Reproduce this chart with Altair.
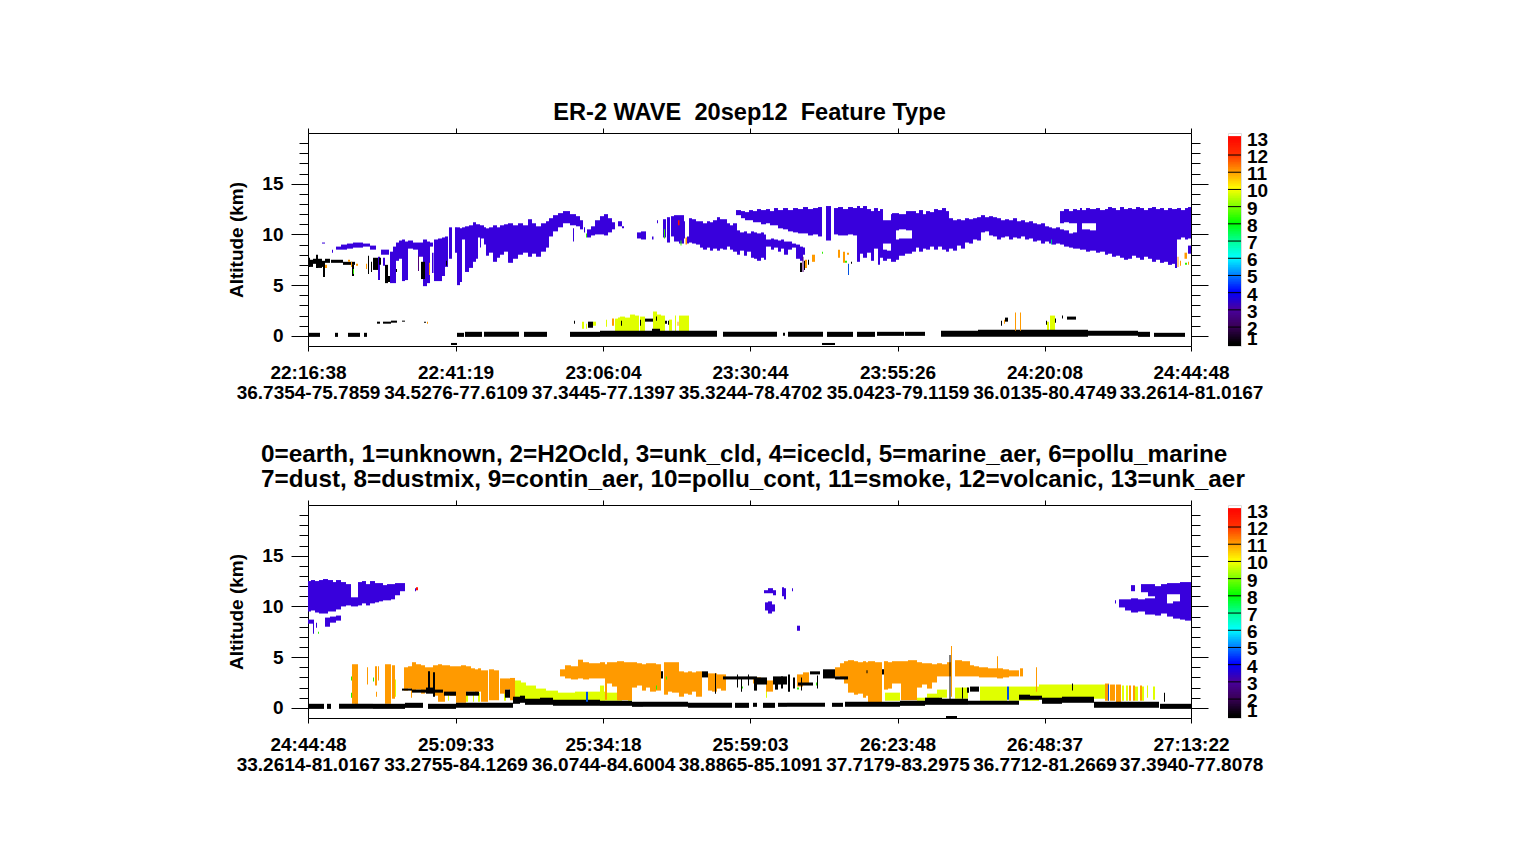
import altair as alt
import numpy as np
import pandas as pd

FONT = "Liberation Sans"
BLACK, PURPLE, ICE, TEAL, GREEN, YELLOW, ORANGE, RED, BLUE = (
    "#000000", "#50007a", "#3800dc", "#00c090", "#30f000", "#e0ff00", "#ff9a00", "#ff1000", "#0050e0")

tick_pos = [0, 147.5, 295, 442, 589.5, 736.5, 883]
times_a = ["22:16:38", "22:41:19", "23:06:04", "23:30:44", "23:55:26", "24:20:08", "24:44:48"]
coords_a = ["36.7354-75.7859", "34.5276-77.6109", "37.3445-77.1397", "35.3244-78.4702", "35.0423-79.1159", "36.0135-80.4749", "33.2614-81.0167"]
times_b = ["24:44:48", "25:09:33", "25:34:18", "25:59:03", "26:23:48", "26:48:37", "27:13:22"]
coords_b = ["33.2614-81.0167", "33.2755-84.1269", "36.0744-84.6004", "38.8865-85.1091", "37.7179-83.2975", "36.7712-81.2669", "37.3940-77.8078"]

# every row: first profile, last profile, feature base (km), feature top (km)
a_ice = [
    (14,17,9.1,9.2),(24,25,8.2,8.5),(28,33,8.5,8.8),(33,39,8.5,9.0),(39,45,8.6,9.1),(45,55,8.7,9.2),(55,62,8.8,9.1),(62,68,8.5,8.9),
    (73,81,8.0,8.5),(70,72,5.5,7.8),(75,77,6.9,7.7),(82,85,5.2,8.3),(85,88,5.2,8.8),(88,91,7.4,9.2),(91,94,7.6,9.4),(94,97,5.4,9.5),(97,100,5.5,9.3),
    (100,105,8.6,9.4),(105,110,8.5,9.2),(110,115,7.8,9.2),(115,119,4.9,9.5),(119,122,5.2,9.3),(122,125,8.8,9.2),(124,125.5,6.2,8.2),(126,130,5.4,9.5),
    (130,134,5.4,9.6),(134,137,5.9,9.7),(137,140,6.8,9.8),(141,144,7.6,10.7),(147,149,8.2,10.7),(149,152,5.0,10.7),(152,154,5.3,10.6),(154,157,9.5,10.7),(157,161,6.3,10.8),
    (161,165,6.7,10.9),(165,168,7.3,11.2),(168,170,7.6,11.0),(170,172,9.7,11.0),(172,173,8.7,10.9),(173,176,9.6,10.9),(176,178,9.0,10.7),(178,181,7.9,10.6),(181,185,8.2,10.7),(185,189,7.3,10.9),
    (189,192,7.7,10.7),(192,196,8.0,10.9),(196,200,8.3,11.0),(200,205,7.2,11.1),(205,210,7.6,10.9),(210,215,8.0,11.1),(215,220,8.2,10.9),
    (220,224,7.8,11.5),(224,228,8.1,11.1),(228,233,7.8,10.8),(233,238,8.3,11.1),(238,241,8.7,11.3),(241,245,9.8,11.6),(245,250,10.3,11.9),(250,255,10.7,12.1),
    (255,262,11.1,12.3),(262,268,10.9,12.0),(268,272,10.8,11.8),(272,275,10.5,11.4),(265,266,9.3,10.6),(276,277,10.2,10.7),(279,283,9.7,10.5),
    (283,287,9.9,10.8),(287,292,10.0,11.4),(292,296,10.0,11.8),(296,300,9.9,12.0),(300,304,10.2,11.6),(304,307,10.5,11.2),(310,314,10.8,11.3),
    (314,316,10.6,10.8),(329,333,9.6,10.2),(333,338,9.5,10.3),(344,345.5,9.5,9.8),(349,350,11.1,11.4),(355,358,9.7,11.5),(359,362,9.2,11.7),
    (363,366,9.8,11.8),(366,371,9.3,11.9),(371,376,9.1,11.9),(376,377,9.6,11.3),(379,381,9.1,9.8),(381,384,9.2,11.6),(384,388,9.1,11.5),(388,392,9.0,11.3),
    (392,395,8.7,11.3),(395,399,8.5,11.1),(399,402,8.7,11.3),(402,405,8.4,11.2),(405,409,8.6,11.4),(409,412,8.4,11.7),(412,415,8.6,11.5),(415,419,8.5,11.5),(419,422,8.8,11.1),(422,425,8.5,10.9),(425,429,8.3,11.1),
    (429,432,8.0,10.4),(432,436,8.4,10.2),(436,439,7.9,10.3),(439,443,8.3,10.1),(443,446,7.7,10.3),(446,449,7.6,10.2),(449,453,7.4,10.1),(453,456,7.7,10.2),(456,458,7.5,10.0),(458,463,8.8,9.5),
    (463,466,8.5,9.6),(466,470,8.7,9.5),(470,473,8.3,9.4),(473,476,8.6,9.5),(476,480,8.0,9.3),(480,484,8.5,9.3),(484,488,8.7,9.1),(488,492,7.6,9.0),(492,495,7.4,8.8),(495,497,8.0,8.7),
    (428,433,11.9,12.4),(433,437,11.6,12.3),(437,441,11.4,12.2),(441,445,11.4,12.4),(445,449,11.2,12.3),(449,453,11.2,12.5),(453,458,11.0,12.4),(458,462,11.1,12.5),(462,466,10.9,12.3),(466,470,10.9,12.6),(470,475,10.6,12.4),(475,480,10.5,12.6),(480,485,10.3,12.4),
    (485,490,10.2,12.6),(490,495,10.1,12.5),(495,500,10.1,12.7),(500,505,9.9,12.5),(505,510,10.0,12.6),(510,514,9.8,12.7),(518,523,9.4,12.8),(526,530,10.0,12.6),(530,535,9.9,12.7),(535,540,9.9,12.5),(540,545,10.0,12.7),(545,549,9.9,12.6),(549,552,7.3,12.8),
    (552,555,8.1,12.6),(555,559,7.7,12.8),(559,563,8.2,12.5),(563,566,7.4,12.3),(566,570,8.6,12.6),(570,572,7.0,12.3),(572,575,7.7,12.5),(575,583,9.1,11.4),(575,579,7.4,8.5),(579,583,7.6,8.4),
    (583,588,7.3,12.0),(584,591,10.4,12.1),(588,591,7.5,9.5),(591,598,10.5,12.0),(598,604,10.4,12.3),(591,597,7.9,9.6),(597,604,8.1,9.6),
    (604,608,8.3,12.3),(608,611,8.7,12.1),(611,615,8.3,12.4),(615,618,8.6,12.0),(618,622,8.5,12.3),(622,626,8.8,12.2),(626,630,8.5,12.5),(630,634,8.8,12.4),(634,638,8.5,12.6),(638,641,8.3,12.3),
    (641,645,8.6,11.6),(645,649,8.4,11.4),(649,653,8.9,11.5),(653,657,8.6,11.4),(657,661,9.2,11.6),(661,665,9.1,11.5),(665,669,9.5,11.6),(669,673,9.4,11.7),(673,677,10.2,11.9),(677,681,10.3,11.7),
    (681,685,9.9,11.8),(685,689,9.8,11.7),(689,693,9.5,11.6),(693,697,9.7,11.4),(697,701,9.8,11.5),(701,705,9.5,11.4),(705,709,9.7,11.6),(709,713,9.6,11.3),(713,717,9.8,11.4),(717,721,9.5,11.2),
    (721,725,9.6,11.3),(725,729,9.3,11.1),(729,733,9.4,11.0),(733,737,9.1,11.1),(737,741,9.3,10.8),(741,744,9.1,10.7),(744,748,9.0,10.6),(748,752,9.1,10.7),(752,756,9.0,10.5),(756,761,8.8,10.4),
    (752,756,11.1,12.3),(756,761,11.2,12.5),(761,765,8.7,10.1),(765,769,8.6,10.2),(761,765,11.1,12.3),(765,769,11.1,12.5),(769,772,8.6,12.4),(772,774,8.5,12.6),(774,778,8.5,10.5),(778,782,8.3,10.5),(782,788,8.4,10.4),
    (774,778,11.1,12.4),(778,782,11.1,12.6),(782,788,11.1,12.5),(788,792,8.2,12.6),(792,797,8.3,12.4),(797,800,8.0,12.5),(800,804,8.1,12.7),(804,808,7.8,12.6),(808,812,7.9,12.4),(812,816,7.7,12.7),(816,820,7.5,12.5),(820,824,7.6,12.6),
    (824,828,7.9,12.5),(828,832,7.7,12.7),(832,836,7.5,12.6),(836,840,7.8,12.4),(840,844,7.6,12.6),(844,848,7.3,12.7),(848,852,7.5,12.5),(852,856,7.2,12.6),(856,860,7.3,12.4),(860,864,7.0,12.6),(864,867,7.1,12.5),(867,869,6.7,12.5),
    (869,873,9.5,12.6),(873,877,9.7,12.4),(877,880,9.5,12.6),(880,883,9.6,12.7),(880,883,8.1,8.9),
]
a_earth = [
    (0,12,-0.1,0.3),(27,30,-0.1,0.3),(40,52,-0.1,0.3),(56,59,-0.1,0.3),(149,156,-0.1,0.3),(157,174,-0.1,0.4),(176,211,-0.1,0.4),(216,239,-0.1,0.4),
    (262,292,-0.1,0.4),(292,340,-0.1,0.5),(340,409,-0.1,0.5),(415,469,-0.1,0.4),(475,477,0.0,0.3),(480,515,-0.1,0.4),(519,545,-0.1,0.4),(549,567,-0.1,0.4),
    (569,596,0.0,0.4),(597,617,0.0,0.4),(633,670,-0.1,0.5),(670,720,-0.1,0.6),(720,780,-0.1,0.6),(780,830,0.0,0.5),(830,842,-0.1,0.4),(846,877,-0.1,0.3),
    (344,352,0.4,0.7),(143,149,-0.9,-0.7),(514,527,-0.9,-0.7),
    (0,2,6.8,7.7),(2,5,6.8,7.5),(5,8,7.1,7.6),(8,10,6.7,8.0),(10,14,6.7,7.6),(14,17,6.8,7.4),(15,17,5.8,7.0),(17,22,7.2,7.6),(23,35,7.2,7.5),(35,47,7.0,7.3),
    (44,46,5.9,7.0),(60,61,6.1,7.9),(63,64,6.3,7.3),(65,70,6.5,7.7),(71,73,7.0,7.7),(77,80,5.2,7.0),(80,82,5.3,5.9),(88,89,6.3,6.6),(113,117,5.6,7.3),
    (138,139,6.9,7.4),(69,72,1.2,1.4),(75,83,1.2,1.4),(83,89,1.3,1.5),(94,97,1.4,1.5),(116,118,1.3,1.4),(266,267,1.2,1.5),
    (280,285,0.8,1.4),(313,314,1.0,1.5),(332,333,1.0,1.6),(337,345,1.4,1.7),(348,349,1.5,1.9),(357,359,1.2,1.5),(360,361,1.1,1.5),
    (693,694,1.0,1.5),(697,700,1.4,1.8),(738,739,1.1,1.5),(747,748,1.3,1.7),(754,755,1.7,2.0),(759,768,1.6,1.9),
    (492,494,6.3,7.2),(496,497,6.5,7.4),(500,501,7.0,7.5),(543,544,7.1,7.3),
]
a_water = [(110,111,6.4,7.9),(494.5,495.5,6.3,7.8)]
a_polluted = [
    (274,276,0.7,1.4),(278,279,0.7,1.2),(285,288,1.0,1.4),(298,299,0.9,1.6),(307,310,0.4,1.7),(310,312,0.4,1.8),(312,317,0.4,1.9),(317,322,0.4,1.8),(322,327,0.4,2.1),(327,331,0.4,2.0),
    (332,337,0.4,1.9),(345,349,0.4,2.4),(349,353,0.4,2.1),(353,357,0.4,2.0),(361,364,0.5,1.6),(367,368,0.4,2.0),(371,381,0.4,2.0),
    (739,741,0.4,1.4),(742,747,0.4,2.0),
]
a_smoke = [
    (17,19,6.7,7.0),(40,42,7.3,7.5),(43,44,6.8,7.3),(48,50,6.9,7.1),(58,59,6.6,7.1),(119,120,1.2,1.4),(121,122,6.0,7.2),(304,306,1.0,1.7),
    (369.5,370.5,1.0,1.4),(377.5,379,9.0,9.7),(497,499,6.7,7.5),(504,507,7.3,8.0),(530,532,7.7,8.5),(535,537,7.2,8.3),(539,541,8.0,8.2),
    (696,697,1.2,1.6),(707,708,0.5,2.3),(712,713,0.5,2.3),(869.5,870.5,6.8,7.8),(872,873,6.9,7.4),(876.5,879,7.6,8.2),(880,881,7.0,7.3),
]
a_dust = [(45,46,6.1,6.6),(278,279,9.7,10.1),(356,357,9.6,10.5),(372.5,373.5,8.9,9.4),(514,515,8.1,8.3),(537,539,7.2,7.4),(877,879,7.0,7.2)]
a_teal = [(743,744,9.0,9.5)]
a_red = [(370,371.5,10.9,11.4)]
a_blue = [(540,541,6.0,7.1)]

b_ice = [
    (0,3,9.5,12.5),(3,7,9.6,12.6),(7,11,9.4,12.5),(11,15,9.3,12.6),(15,20,9.3,12.7),(20,25,9.5,12.6),(25,28,9.5,12.4),(28,33,9.7,12.6),(33,38,10.0,12.4),(38,43,10.1,12.2),
    (43,50,10.0,10.9),(50,54,10.1,12.4),(54,58,10.3,12.5),(58,62,10.1,12.2),(62,67,10.3,12.5),(67,71,10.4,12.3),(71,75,10.5,12.3),(75,79,10.6,12.1),(79,83,10.6,12.2),
    (83,87,10.7,12.2),(87,92,11.1,12.3),(92,97,11.5,12.3),(0,6,8.3,8.7),(5,6,7.3,8.5),(8,9,7.9,8.4),(17,22,8.0,8.9),(22,28,8.4,9.0),(28,33,8.6,9.1),(107,108,11.5,11.8),
    (457,460,9.6,10.4),(460,464,9.3,10.5),(464,467,9.5,10.2),(456,460,11.3,11.6),(460,465,11.3,11.8),(465,468,11.1,11.6),(474,476,11.0,11.9),(476,478,10.7,11.8),(484,485,11.5,11.8),(489,492,7.6,8.1),
    (807,808,10.3,10.6),(811,817,9.9,10.7),(817,823,9.6,10.7),(823,827,11.5,12.1),(823,830,9.4,10.8),(830,837,9.5,10.7),(833,840,11.4,12.2),(840,847,11.0,12.2),(837,847,9.2,10.8),
    (847,853,9.1,12.0),(853,859,9.3,12.2),(859,865,9.0,10.3),(865,872,8.8,10.5),(859,872,11.2,12.3),(872,877,8.7,12.4),(877,883,8.6,12.4),
]
b_earth = [
    (0,16,-0.1,0.4),(19,23,-0.1,0.4),(31,65,-0.1,0.4),(65,97,-0.1,0.4),(97,115,0.0,0.5),(120,148,-0.1,0.4),(148,205,0.0,0.5),(205,212,0.4,1.1),(212,217,0.5,1.2),
    (217,232,0.3,0.9),(232,245,0.3,1.0),(245,292,0.2,0.8),(292,324,0.2,0.7),(324,335,0.1,0.6),(335,380,0.1,0.6),(380,424,0.0,0.5),(427,441,0.0,0.5),(445,449,0.1,0.5),
    (455,467,0.0,0.5),(470,479,0.1,0.5),(479,517,0.1,0.5),(524,535,0.1,0.5),(537,592,0.1,0.6),(592,617,0.2,0.7),(617,634,0.3,1.0),(634,660,0.3,0.9),(660,711,0.3,0.7),
    (711,722,0.8,1.3),(722,734,0.8,1.2),(734,754,0.4,1.0),(754,786,0.5,1.1),(786,851,0.0,0.6),(852,883,-0.1,0.4),(638,649,-1.0,-0.8),
    (94,104,1.7,1.9),(104,118,1.5,1.8),(118,125,1.4,2.0),(120,122,1.5,3.6),(125,127,1.1,3.5),(127,135,1.5,1.8),(136,148,1.2,1.6),(158,171,1.2,1.6),(197,202,1.0,1.8),
    (353,355,2.9,3.6),(394,400,3.0,3.6),(407,408,1.4,3.4),(415,435,2.8,3.1),(435,449,2.8,3.1),(429,430,2.0,3.3),(433,434,1.6,3.0),(440,441,2.2,3.3),(446,449,1.7,3.0),
    (449,459,2.3,3.0),(465,479,2.3,3.1),(467,470,1.8,3.0),(473,475,1.9,3.1),(480,482,1.6,3.3),(485,487,1.9,3.0),
    (490,505,2.2,2.5),(493,494,1.7,3.0),(502,512,3.3,3.6),(509,510,1.9,3.2),(515,527,2.9,3.8),(527,540,2.8,3.1),(558.5,559.5,3.4,3.7),(574,576,3.3,3.8),(641.5,642.5,0.75,5.2),
    (654,655,0.9,2.0),(659,661,1.5,2.0),(662,671,1.6,2.1),(764,765,1.7,2.4),(856,857,0.6,1.5),
]
b_polluted = [
    (87,88,1.1,2.8),(134,135,0.7,1.8),(140,141,0.7,1.8),(158,160,0.6,1.6),(165,166,0.6,1.6),(170,172,0.6,1.5),(196,198,0.7,1.5),
    (207,213,0.6,2.7),(213,218,0.6,2.5),(218,228,0.6,2.2),(228,238,0.6,1.9),(238,250,0.6,1.7),(250,267,0.6,1.5),(267,278,0.6,1.6),(280,297,0.7,1.6),
    (292,296,0.7,2.2),(296,314,0.7,1.5),(320,324,0.7,1.4),(458,459,1.0,1.9),(577,592,0.7,1.5),(609,619,0.7,1.0),(619,631,0.8,1.4),(629,639,1.0,1.8),
    (647,660,0.9,2.0),(672,699,0.7,2.1),(701,731,0.7,2.1),(731,765,0.9,2.3),(765,797,0.9,2.3),(814,816,0.7,2.2),(818,820,0.7,2.2),(827,830,0.7,2.1),(834,836,0.7,2.1),
    (839,840,1.0,2.2),(845,847,0.8,2.1),
]
b_smoke = [
    (44,47,0.4,4.3),(47,50,0.3,4.3),(59,60,2.3,4.0),(67,69,2.2,4.1),(68,69,1.1,1.6),(70,71,2.7,4.1),(77,83,0.4,4.3),(84,87,0.9,4.2),
    (96,100,1.7,4.0),(100,103,1.9,4.1),(103,104,1.0,4.1),(104,108,1.6,4.5),(108,113,1.8,4.3),(113,117,1.4,4.2),(117,120,1.6,4.0),(120,125,1.6,4.0),(125,130,1.2,4.2),(130,134,0.6,4.3),(134,137,0.6,4.2),(137,142,1.4,4.2),(142,148,1.2,4.1),(148,153,0.5,4.1),(153,158,0.5,4.2),(158,163,1.6,4.1),
    (163,167,1.6,3.9),(167,170,1.5,3.8),(170,173,1.6,3.9),(173,180,0.6,3.7),(181,186,0.75,3.8),(186,191,0.75,3.7),(192,197,1.4,2.9),(197,202,1.8,2.9),(202,207,0.75,2.95),
    (252,257,3.1,3.8),(257,263,2.9,4.2),(263,270,2.8,4.1),(270,275,2.9,4.75),(275,281,2.8,4.5),(281,286,2.9,4.4),(286,292,2.9,4.4),(292,297,2.9,4.5),(297,299,0.8,4.3),
    (299,304,2.4,4.5),(304,309,2.1,4.5),(309,316,0.75,4.6),(316,324,0.75,4.5),(324,329,2.0,4.5),(329,334,2.2,4.4),(334,338,1.7,4.3),(338,342,2.0,4.4),(342,348,1.6,4.4),(348,353,1.7,4.3),(356,360,1.3,4.5),(360,364,1.6,4.5),(364,371,1.5,4.5),(371,376,1.1,3.6),(376,380,1.4,3.5),(380,384,1.3,3.6),
    (384,388,1.6,3.5),(388,394,1.1,3.6),(400,404,1.7,3.4),(404,409,1.6,3.4),(409,413,1.9,3.3),(413,418,1.7,3.3),(445,453,2.4,3.0),(458,465,1.6,2.7),(489,495,2.1,3.3),(495,501,2.3,3.5),
    (527,532,3.1,4.0),(532,536,2.9,4.4),(536,540,2.4,4.6),(540,546,1.5,4.7),(546,550,1.3,4.6),(550,555,1.4,4.5),(555,558,1.0,4.6),(558,560,1.2,4.5),(560,567,0.5,4.6),(567,574,0.5,4.5),(576,580,1.8,4.6),(580,584,1.9,4.5),
    (584,593,2.4,4.6),(593,600,0.75,4.6),(600,609,0.75,4.7),(609,614,2.0,4.5),(614,619,2.3,4.4),(619,624,1.9,4.4),(624,629,2.5,4.3),(629,634,3.1,4.4),(634,639,3.1,4.3),(639,644,3.1,4.5),(647,654,3.1,4.7),(654,662,3.1,4.6),(662,666,3.1,4.2),(666,671,3.1,4.1),(671,680,3.0,4.0),(680,689,3.0,3.9),
    (689,695,2.9,3.9),(695,701,3.0,3.8),(701,711,3.1,3.7),(712,715,3.1,3.9),(643,644,1.1,6.1),(689,690,3.1,5.1),(728,729,1.6,4.0),
    (797,801,0.7,2.4),(802,807,0.7,2.3),(808,813,0.4,2.3),(821,823,0.7,2.2),(825,827,0.7,2.2),(832,834,0.7,2.2),
]
b_dust = [(43,44,2.7,3.1),(43,44,1.0,1.5),(10,11,7.3,7.5),(65,66,2.6,3.0),(434,435,1.9,2.1),(348,349,1.8,2.2),(358,359,2.8,3.1),(489,491,1.8,2.0),(508,509,2.2,2.5)]
b_red = [(108,110,11.6,11.9)]
b_blue = [(278,280,0.6,1.6),(699,701,0.8,2.1),(800,801,0.7,2.3)]

bar_stop_levels = [0.9, 1.0, 2.0, 3.0, 4.0, 5.0, 6.0, 7.0, 8.0, 9.0, 10.0, 11.0, 12.0, 13.1]
bar_stop_colors = ["#000000", "#000000", "#3a0058", "#4a00a0", "#0000ff", "#0080ff", "#00ffff", "#00ff90", "#00ff00", "#80ff00", "#ffff00", "#ff9a00", "#ff3000", "#ff0000"]
bar_labels = ["1", "2", "3", "4", "5", "6", "7", "8", "9", "10", "11", "12", "13"]
bar_label_levels = [1.45, 2, 3, 4, 5, 6, 7, 8, 9, 10, 11, 12, 13]


def rows(groups):
    out = []
    for name, color, items in groups:
        for (x0, x1, b, t) in items:
            out.append(dict(x0=x0, x1=x1, base=b, top=t, kind=name, fill=color))
    return pd.DataFrame(out)


def panel(df, times, coords, title):
    mapping = "{" + ",".join(f"'{p}':['{t}','{c}']" for p, t, c in zip(tick_pos, times, coords)) + "}"
    ytick = list(range(0, 20))
    xscale = alt.Scale(domain=[0, 883], nice=False, zero=False)
    yscale = alt.Scale(domain=[-1, 20], nice=False, zero=False)
    size_cond = {"condition": {"test": "datum.value % 5 === 0", "value": 17}, "value": 9}
    base_axis = dict(grid=False, domainColor="black", tickColor="black", domainWidth=1, tickWidth=1)
    x_bottom = alt.Axis(values=tick_pos, title=None, tickSize=5, labelExpr=f"{mapping}[datum.value]",
                        labelFont=FONT, labelFontSize=19, labelFontWeight="bold", labelColor="black",
                        labelPadding=12, labelLineHeight=20, labelOverlap=False, labelFlush=False, **base_axis)
    y_left = alt.Axis(values=ytick, title="Altitude (km)", tickSize=size_cond,
                      labelExpr="datum.value % 5 === 0 ? datum.label : ''",
                      labelFont=FONT, labelFontSize=19, labelFontWeight="bold", labelColor="black", labelPadding=8,
                      titleFont=FONT, titleFontSize=19, titleFontWeight="bold", titleColor="black", titlePadding=15,
                      labelOverlap=False, **base_axis)
    fg = alt.Chart(df).mark_rect().encode(
        x=alt.X("x0:Q", scale=xscale, axis=x_bottom),
        x2="x1:Q",
        y=alt.Y("base:Q", scale=yscale, axis=y_left),
        y2="top:Q",
        color=alt.Color("fill:N", scale=None, legend=None),
    )
    x_top = alt.Axis(values=tick_pos, title=None, tickSize=5, labels=False, orient="top", **base_axis)
    y_right = alt.Axis(values=ytick, title=None, tickSize=size_cond, labels=False, orient="right", **base_axis)
    frame = alt.Chart(df.head(1)).mark_rect(opacity=0).encode(
        x=alt.X("x0:Q", scale=xscale, axis=x_top),
        x2="x1:Q",
        y=alt.Y("base:Q", scale=yscale, axis=y_right),
        y2="top:Q",
    )
    return alt.layer(fg, frame).resolve_axis(x="independent", y="independent").properties(width=883, height=213, title=title)


def colorbar():
    cells = pd.DataFrame({"lo": np.arange(0.9, 13.0, 0.1)})
    cells["hi"] = cells["lo"] + 0.2
    labels = pd.DataFrame({"lev": bar_label_levels, "txt": bar_labels})
    lines = pd.DataFrame({"lev": list(range(2, 13))})
    ys = alt.Scale(domain=[0.9, 13.28], nice=False, zero=False)
    ramp = alt.Chart(cells).mark_rect().encode(
        y=alt.Y("lo:Q", scale=ys, axis=None),
        y2="hi:Q",
        color=alt.Color("lo:Q", scale=alt.Scale(domain=bar_stop_levels, range=bar_stop_colors, interpolate="rgb"), legend=None),
    )
    rules = alt.Chart(lines).mark_rule(color="black", strokeWidth=1).encode(y=alt.Y("lev:Q", scale=ys, axis=None))
    text = alt.Chart(labels).mark_text(align="left", baseline="middle", font=FONT, fontSize=19, fontWeight="bold", dx=6, dy=2, color="black").encode(
        x=alt.value(13),
        y=alt.Y("lev:Q", scale=ys, axis=None),
        text="txt:N",
    )
    return alt.layer(ramp, rules, text).properties(width=13, height=213)


df_a = rows([("ice", ICE, a_ice), ("water", PURPLE, a_water), ("polluted", YELLOW, a_polluted), ("earth", BLACK, a_earth),
             ("smoke", ORANGE, a_smoke), ("dust", GREEN, a_dust), ("teal", TEAL, a_teal), ("red", RED, a_red), ("blue", BLUE, a_blue)])
df_b = rows([("ice", ICE, b_ice), ("polluted", YELLOW, b_polluted), ("smoke", ORANGE, b_smoke), ("earth", BLACK, b_earth),
             ("dust", GREEN, b_dust), ("red", RED, b_red), ("blue", BLUE, b_blue)])

title_a = alt.TitleParams(text="ER-2 WAVE\u00a0\u00a020sep12\u00a0\u00a0Feature Type", font=FONT, fontSize=23.6, fontWeight="bold", color="black", anchor="middle", offset=3)
title_b = alt.TitleParams(
    text=["0=earth, 1=unknown, 2=H2Ocld, 3=unk_cld, 4=icecld, 5=marine_aer, 6=pollu_marine",
          "7=dust, 8=dustmix, 9=contin_aer, 10=pollu_cont, 11=smoke, 12=volcanic, 13=unk_aer"],
    font=FONT, fontSize=24.3, fontWeight="bold", color="black", anchor="start", frame="group", align="left", dx=-47, offset=7, lineHeight=25)

chart = alt.concat(
    panel(df_a, times_a, coords_a, title_a), colorbar(),
    panel(df_b, times_b, coords_b, title_b), colorbar(),
    columns=2, spacing={"row": 159, "column": 37}, bounds="flush",
).properties(padding={"left": 219, "top": 92, "right": 0, "bottom": 0}).configure_view(stroke="black", strokeWidth=1).configure(background="white")

chart.save("out.html", embed_options={"renderer": "svg", "actions": False})
